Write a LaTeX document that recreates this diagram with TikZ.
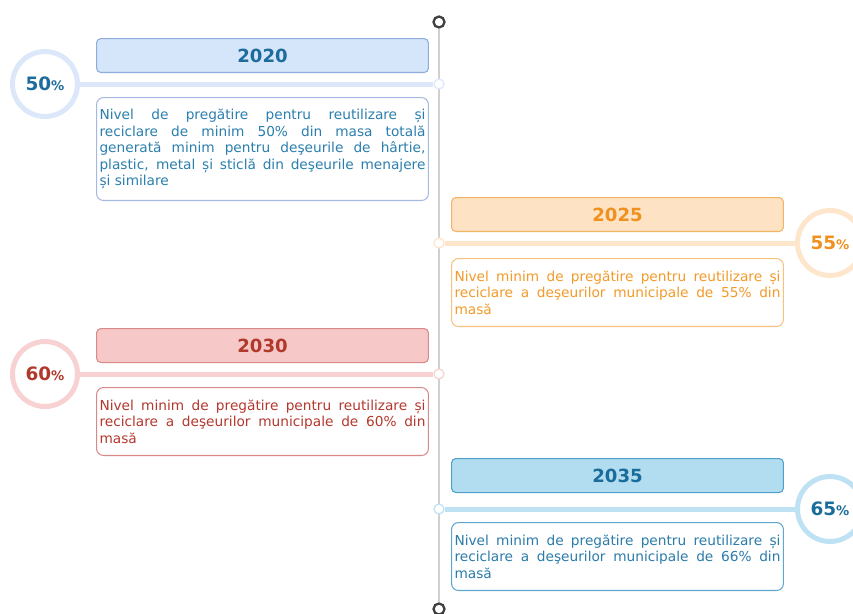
\documentclass[tikz,border=0pt]{standalone}
\usepackage{fontspec}
\setmainfont{DejaVu Sans}
\usetikzlibrary{positioning}
\definecolor{Axis}{HTML}{D0D0D0}
\definecolor{BlueHead}{HTML}{D5E5FA}
\definecolor{BlueEdge}{HTML}{8EACDD}
\definecolor{BlueText}{HTML}{1D6C9C}
\definecolor{BlueSoft}{HTML}{DCE8FA}
\definecolor{BlueLine}{HTML}{A5B9E2}
\definecolor{BlueBody}{HTML}{2B7FAE}
\definecolor{OrangeHead}{HTML}{FDE2C3}
\definecolor{OrangeEdge}{HTML}{F3B466}
\definecolor{OrangeText}{HTML}{F0901F}
\definecolor{OrangeSoft}{HTML}{FDE6CC}
\definecolor{OrangeLine}{HTML}{F7C27F}
\definecolor{OrangeBody}{HTML}{F39A2A}
\definecolor{RedHead}{HTML}{F6C8C8}
\definecolor{RedEdge}{HTML}{D88A8A}
\definecolor{RedText}{HTML}{B1392C}
\definecolor{RedSoft}{HTML}{F8D2D2}
\definecolor{RedBody}{HTML}{B5382E}
\definecolor{SkyHead}{HTML}{B2DDF0}
\definecolor{SkyEdge}{HTML}{4E9FCB}
\definecolor{SkyText}{HTML}{1A6C9B}
\definecolor{SkySoft}{HTML}{BEE2F4}
\definecolor{SkyLine}{HTML}{5DA7D1}
\definecolor{SkyBody}{HTML}{2B7CAA}

\begin{document}
\begin{tikzpicture}[x=0.02cm,y=-0.02cm,
    yearbox/.style n args={3}{draw=#1,fill=#2,text=#3,rounded corners=2.5pt,line width=0.6pt,minimum width=6.64cm,minimum height=0.68cm,inner sep=0pt,font=\fontsize{10.3}{12}\selectfont\bfseries,anchor=north west},
    descbox/.style n args={2}{draw=#1,text=#2,fill=white,rounded corners=4pt,line width=0.6pt,text width=6.52cm,inner xsep=0.06cm,inner ysep=0pt,align=justify,font=\fontsize{7.8}{9.4}\selectfont,anchor=north west},
    ring/.style={circle,draw=#1,line width=0.1cm,fill=white,minimum size=1.3cm,inner sep=0pt,font=\fontsize{10.5}{12}\selectfont\bfseries},
    dot/.style={circle,draw=#1,fill=white,line width=0.7pt,minimum size=0.2cm,inner sep=0pt},
    conn/.style={draw=#1,line width=0.1cm}]
    \useasboundingbox (0,0) rectangle (853,613);
    % timeline axis
    \node[circle,draw=black!75,line width=1.3pt,fill=white,minimum size=0.22cm,inner sep=0pt] (top) at (439,22) {};
    \node[circle,draw=black!75,line width=1.3pt,fill=white,minimum size=0.22cm,inner sep=0pt] (bot) at (439,609) {};
    \draw[Axis,line width=0.055cm] (top)--(bot);
    % 2020
    \node[yearbox={BlueEdge}{BlueHead}{BlueText}] (y20) at (96,38) {2020};
    \node[descbox={BlueLine}{BlueBody},minimum height=2.06cm] (d20) at (96,97) {Nivel de pregătire pentru reutilizare și\linebreak reciclare de minim 50\% din masa totală\linebreak generată minim pentru deşeurile de hârtie,\linebreak plastic, metal și sticlă din deşeurile menajere\linebreak și similare};
    \node[ring=BlueSoft,text=BlueText] (p20) at (45,84) {50{\fontsize{7.5}{8}\selectfont\%}};
    \node[dot=BlueSoft] (k20) at (439,84) {};
    \draw[conn=BlueSoft] (p20)--(k20);
    % 2025
    \node[yearbox={OrangeEdge}{OrangeHead}{OrangeText}] (y25) at (451,197) {2025};
    \node[descbox={OrangeLine}{OrangeBody},minimum height=1.36cm] (d25) at (451,258) {Nivel minim de pregătire pentru reutilizare și\linebreak reciclare a deşeurilor municipale de 55\% din\linebreak masă};
    \node[ring=OrangeSoft,text=OrangeText] (p25) at (830,243) {55{\fontsize{7.5}{8}\selectfont\%}};
    \node[dot=OrangeSoft] (k25) at (439,243) {};
    \draw[conn=OrangeSoft] (k25)--(p25);
    % 2030
    \node[yearbox={RedEdge}{RedHead}{RedText}] (y30) at (96,328) {2030};
    \node[descbox={RedEdge}{RedBody},minimum height=1.36cm] (d30) at (96,387) {Nivel minim de pregătire pentru reutilizare și\linebreak reciclare a deşeurilor municipale de 60\% din\linebreak masă};
    \node[ring=RedSoft,text=RedText] (p30) at (45,374) {60{\fontsize{7.5}{8}\selectfont\%}};
    \node[dot=RedSoft] (k30) at (439,374) {};
    \draw[conn=RedSoft] (p30)--(k30);
    % 2035
    \node[yearbox={SkyEdge}{SkyHead}{SkyText}] (y35) at (451,458) {2035};
    \node[descbox={SkyLine}{SkyBody},minimum height=1.36cm] (d35) at (451,522) {Nivel minim de pregătire pentru reutilizare și\linebreak reciclare a deşeurilor municipale de 66\% din\linebreak masă};
    \node[ring=SkySoft,text=SkyText] (p35) at (830,509) {65{\fontsize{7.5}{8}\selectfont\%}};
    \node[dot=SkySoft] (k35) at (439,509) {};
    \draw[conn=SkySoft] (k35)--(p35);
\end{tikzpicture}
\end{document}
